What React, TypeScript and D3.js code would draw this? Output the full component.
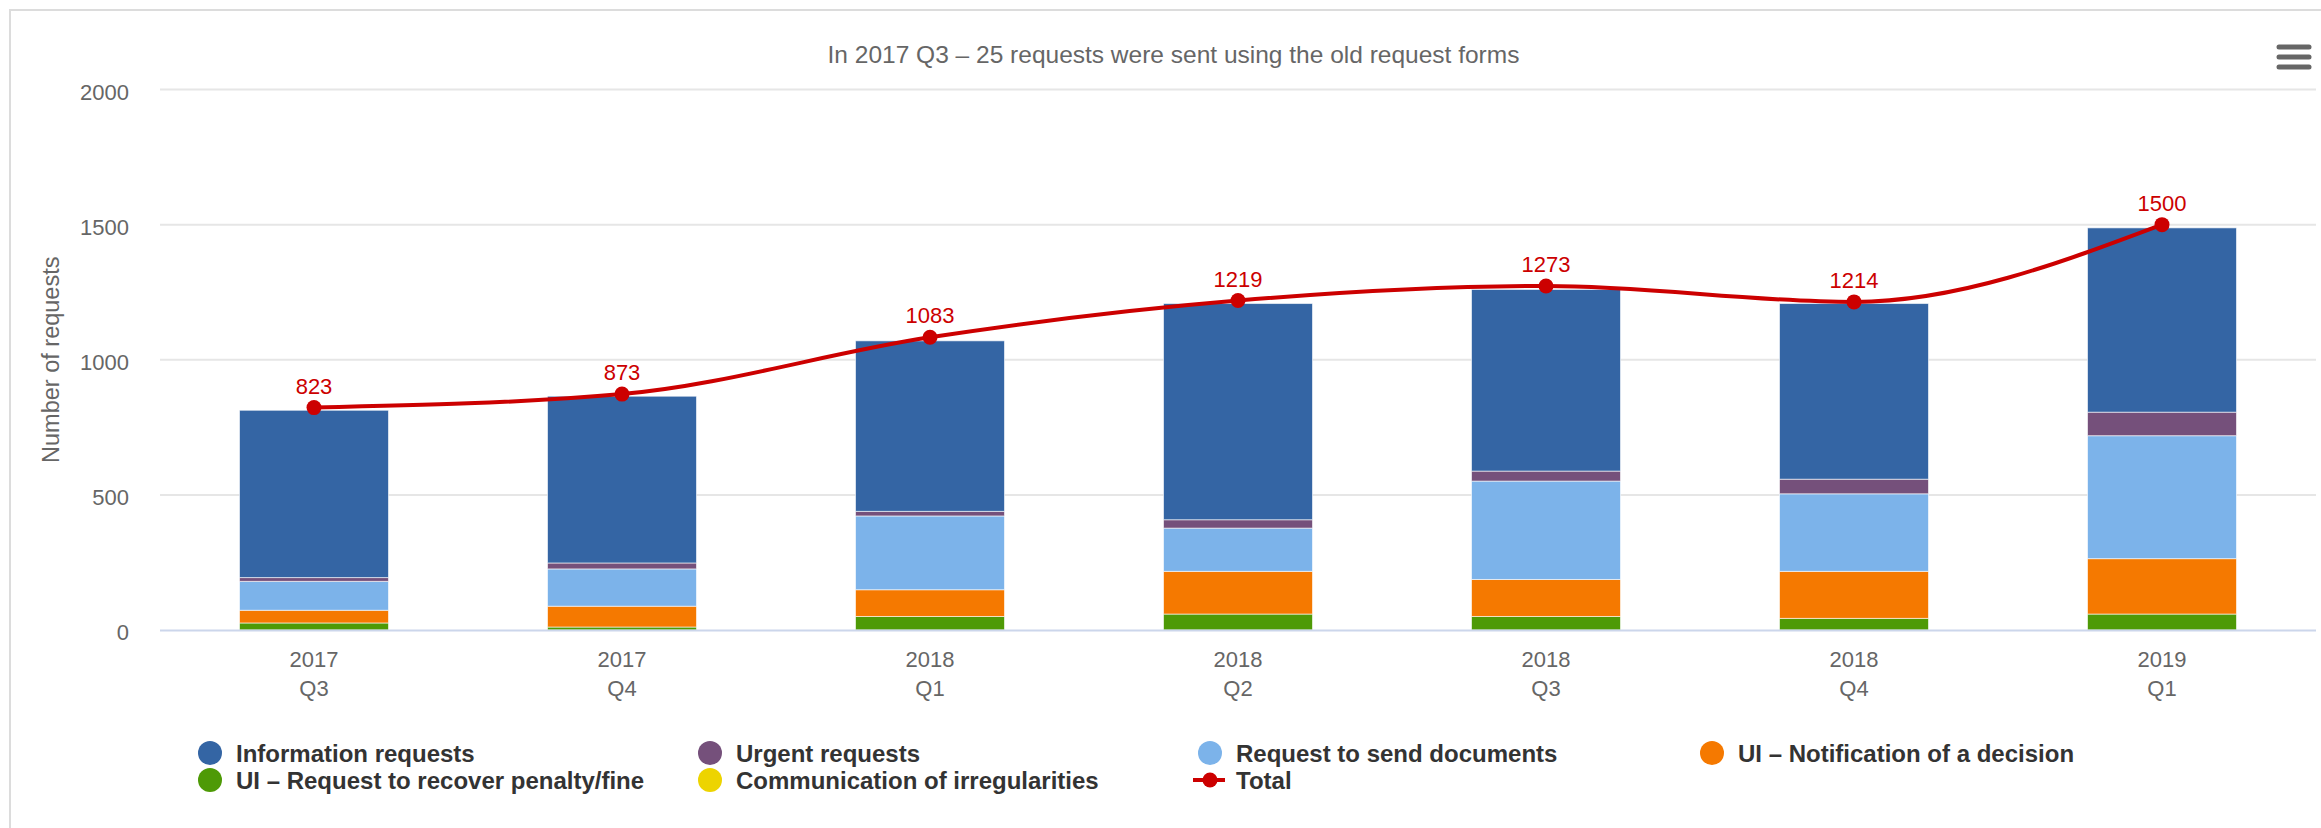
import React, { useEffect, useRef } from 'react'
import * as d3 from 'd3'

// quarters on the x axis
const years = ['2017', '2017', '2018', '2018', '2018', '2018', '2019']
const quarters = ['Q3', 'Q4', 'Q1', 'Q2', 'Q3', 'Q4', 'Q1']

// stacked series
const informationRequests = [619, 617, 631, 800, 672, 650, 682]
const urgentRequests = [14, 22, 17, 31, 37, 54, 87]
const sendDocuments = [107, 138, 273, 160, 364, 287, 455]
const uiNotification = [47, 77, 99, 158, 137, 174, 205]
const uiRecoverPenalty = [26, 11, 50, 59, 50, 43, 59]
const irregularities = [0, 0, 0, 0, 0, 0, 0]

const totals = [823, 873, 1083, 1219, 1273, 1214, 1500]

const yTicks = [0, 500, 1000, 1500, 2000]

const seriesNames = [
  'Information requests',
  'Urgent requests',
  'Request to send documents',
  'UI – Notification of a decision',
  'UI – Request to recover penalty/fine',
  'Communication of irregularities',
]
const seriesColors = ['#3465a4', '#75507b', '#7cb3ea', '#f57900', '#4e9a06', '#edd400']
const seriesValues = [
  informationRequests,
  urgentRequests,
  sendDocuments,
  uiNotification,
  uiRecoverPenalty,
  irregularities,
]

const FONT = '"Liberation Sans", Arial, Helvetica, sans-serif'

const App = () => {
  const ref = useRef<HTMLDivElement>(null)

  useEffect(() => {
    const width = 2321
    const height = 828
    const plot = { left: 160, right: 2316, top: 89.5, bottom: 630 }

    d3.select(ref.current).selectAll('*').remove()

    const svg = d3.select(ref.current)
      .append('svg')
      .attr('width', width)
      .attr('height', height)
      .style('display', 'block')
      .style('font-family', FONT)

    svg.append('rect')
      .attr('width', width).attr('height', height).attr('fill', '#fff')

    // chart frame (right side runs off the page)
    svg.append('rect')
      .attr('x', 10).attr('y', 10)
      .attr('width', 2340).attr('height', 900)
      .attr('fill', 'none')
      .attr('stroke', '#dcdcdc')
      .attr('stroke-width', 2)

    // scales
    const idx = d3.range(years.length).map(String)
    const x = d3.scaleBand<string>()
      .domain(idx)
      .range([plot.left, plot.right])
    const y = d3.scaleLinear()
      .domain([0, 2000])
      .range([plot.bottom, plot.top])

    // title
    svg.append('text')
      .attr('x', 1173.5).attr('y', 62.5)
      .attr('text-anchor', 'middle')
      .attr('fill', '#666')
      .style('font-size', '24.5px')
      .text('In 2017 Q3 – 25 requests were sent using the old request forms')

    // menu icon
    const menu = svg.append('g').attr('stroke', '#666').attr('stroke-width', 5).attr('stroke-linecap', 'round')
    ;[47, 57, 67].forEach(yy => {
      menu.append('line').attr('x1', 2279).attr('x2', 2309).attr('y1', yy).attr('y2', yy)
    })

    // gridlines + y labels
    const grid = svg.append('g')
    grid.selectAll('line')
      .data(yTicks.filter(t => t > 0))
      .join('line')
      .attr('x1', plot.left).attr('x2', plot.right)
      .attr('y1', d => y(d)).attr('y2', d => y(d))
      .attr('stroke', '#e6e6e6')
      .attr('stroke-width', 2)

    svg.append('g')
      .selectAll('text')
      .data(yTicks)
      .join('text')
      .attr('x', 129)
      .attr('y', d => y(d) + 10.4)
      .attr('text-anchor', 'end')
      .attr('fill', '#666')
      .style('font-size', '22px')
      .text(d => d)

    svg.append('text')
      .attr('transform', `translate(59, ${(plot.top + plot.bottom) / 2}) rotate(-90)`)
      .attr('text-anchor', 'middle')
      .attr('fill', '#666')
      .style('font-size', '23.5px')
      .text('Number of requests')

    // stacked bars, bottom series is the last one
    const stackOrder = d3.range(seriesValues.length).reverse()
    const barWidth = 149
    const bars = svg.append('g')
    idx.forEach((key, i) => {
      let base = 0
      stackOrder.forEach(s => {
        const v = seriesValues[s][i]
        if (v <= 0) return
        bars.append('rect')
          .attr('x', x(key)! + x.bandwidth() / 2 - barWidth / 2)
          .attr('width', barWidth)
          .attr('y', y(base + v))
          .attr('height', y(base) - y(base + v))
          .attr('fill', seriesColors[s])
          .attr('stroke', '#fff')
          .attr('stroke-opacity', 0.6)
          .attr('stroke-width', 1)
        base += v
      })
    })

    // x axis
    svg.append('line')
      .attr('x1', plot.left).attr('x2', plot.right)
      .attr('y1', plot.bottom + 0.5).attr('y2', plot.bottom + 0.5)
      .attr('stroke', '#ccd6eb')
      .attr('stroke-width', 2)

    const xLabels = svg.append('g')
      .attr('fill', '#666')
      .attr('text-anchor', 'middle')
      .style('font-size', '22px')
    idx.forEach((key, i) => {
      const cx = x(key)! + x.bandwidth() / 2
      xLabels.append('text').attr('x', cx).attr('y', 667).text(years[i])
      xLabels.append('text').attr('x', cx).attr('y', 696).text(quarters[i])
    })

    // total line
    const line = d3.line<number>()
      .x((d, i) => x(idx[i])! + x.bandwidth() / 2)
      .y(d => y(d))
      .curve(d3.curveMonotoneX)

    svg.append('path')
      .attr('d', line(totals))
      .attr('fill', 'none')
      .attr('stroke', '#cc0000')
      .attr('stroke-width', 4)

    svg.append('g')
      .selectAll('circle')
      .data(totals)
      .join('circle')
      .attr('cx', (d, i) => x(idx[i])! + x.bandwidth() / 2)
      .attr('cy', d => y(d))
      .attr('r', 7.5)
      .attr('fill', '#cc0000')

    svg.append('g')
      .selectAll('text')
      .data(totals)
      .join('text')
      .attr('x', (d, i) => x(idx[i])! + x.bandwidth() / 2)
      .attr('y', d => y(d) - 14)
      .attr('text-anchor', 'middle')
      .attr('fill', '#cc0000')
      .style('font-size', '22px')
      .text(d => d)

    // legend
    const legendCols = [210, 710, 1210, 1712]
    const legendRows = [753, 780]
    const legend = svg.append('g')
      .style('font-size', '24px')
      .style('font-weight', 'bold')
    seriesNames.forEach((name, i) => {
      const cx = legendCols[i % 4]
      const cy = legendRows[Math.floor(i / 4)]
      legend.append('circle')
        .attr('cx', cx).attr('cy', cy).attr('r', 12)
        .attr('fill', seriesColors[i])
      legend.append('text')
        .attr('x', cx + 26).attr('y', cy + 8.6)
        .attr('fill', '#333')
        .text(name)
    })
    const tx = legendCols[2]
    const ty = legendRows[1]
    legend.append('line')
      .attr('x1', tx - 17).attr('x2', tx + 15)
      .attr('y1', ty).attr('y2', ty)
      .attr('stroke', '#cc0000').attr('stroke-width', 4)
    legend.append('circle')
      .attr('cx', tx).attr('cy', ty).attr('r', 7.5)
      .attr('fill', '#cc0000')
    legend.append('text')
      .attr('x', tx + 26).attr('y', ty + 8.6)
      .attr('fill', '#333')
      .text('Total')
  }, [])

  return <div ref={ref} style={{ position: 'absolute', left: 0, top: 0 }}></div>
}

export default App
